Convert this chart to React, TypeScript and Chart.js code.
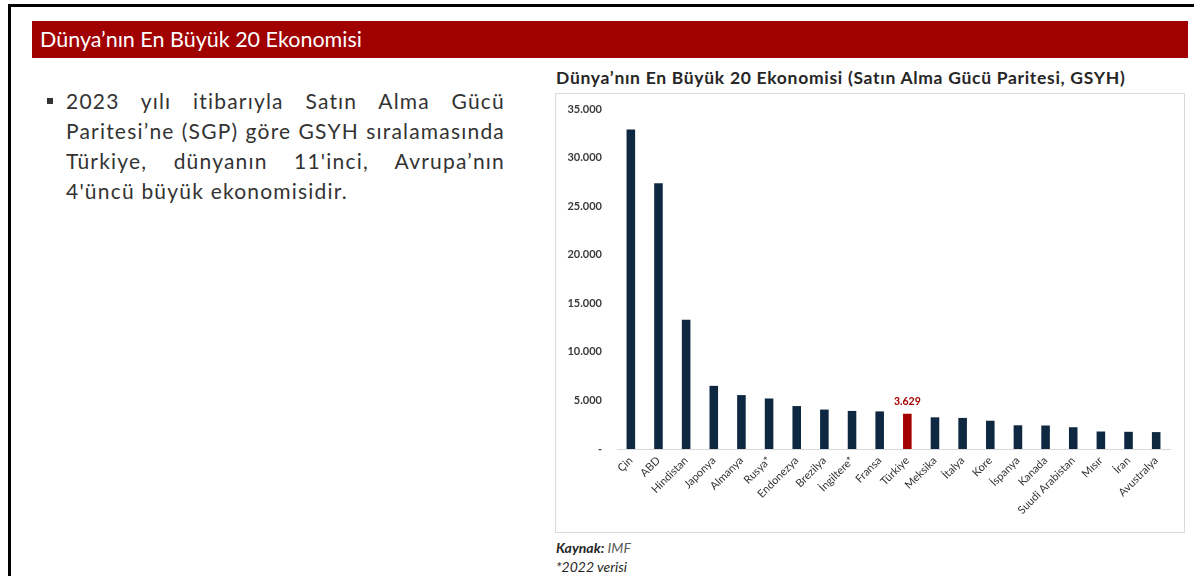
import React, { useEffect, useRef } from "react";
import { Chart, registerables } from "chart.js";

Chart.register(...registerables);

const categories = [
  "Çin", "ABD", "Hindistan", "Japonya", "Almanya", "Rusya*", "Endonezya", "Brezilya",
  "İngiltere*", "Fransa", "Türkiye", "Meksika", "İtalya", "Kore", "İspanya", "Kanada",
  "Suudi Arabistan", "Mısır", "İran", "Avustralya",
];
const gdpPpp = [
  32900, 27360, 13300, 6500, 5550, 5200, 4420, 4060, 3920, 3870,
  3629, 3260, 3200, 2910, 2440, 2420, 2240, 1800, 1770, 1740,
];
const highlightCategory = "Türkiye";
const yTicks = [0, 5000, 10000, 15000, 20000, 25000, 30000, 35000];

const FONT = "Lato, 'Open Sans', sans-serif";
const NAVY = "#0e2841";
const RED = "#a50000";

const fmt = (v: number) =>
  v === 0 ? "-" : String(Math.round(v)).replace(/\B(?=(\d{3})+(?!\d))/g, ".");

function BarChart() {
  const ref = useRef<HTMLCanvasElement | null>(null);
  useEffect(() => {
    if (!ref.current) return;
    const hiIdx = categories.indexOf(highlightCategory);
    const labelPlugin = {
      id: "hiLabel",
      afterDatasetsDraw(chart: any) {
        const meta = chart.getDatasetMeta(0);
        const el = meta.data[hiIdx];
        if (!el) return;
        const ctx = chart.ctx;
        ctx.save();
        ctx.font = `bold 10.5px ${FONT}`;
        ctx.fillStyle = RED;
        ctx.textAlign = "center";
        ctx.textBaseline = "bottom";
        ctx.fillText(fmt(gdpPpp[hiIdx]), el.x, el.y - 7);
        ctx.restore();
      },
    };
    const chart = new Chart(ref.current, {
      type: "bar",
      data: {
        labels: categories,
        datasets: [
          {
            data: gdpPpp,
            backgroundColor: categories.map((c) => (c === highlightCategory ? RED : NAVY)),
            barPercentage: 0.31,
            categoryPercentage: 1,
          },
        ],
      },
      options: {
        animation: false,
        responsive: false,
        devicePixelRatio: 1,
        layout: { padding: { top: 15, right: 14, left: 0, bottom: 0 } },
        plugins: { legend: { display: false }, tooltip: { enabled: false }, title: { display: false } },
        scales: {
          y: {
            min: 0,
            max: 35000,
            afterBuildTicks: (s: any) => {
              s.ticks = yTicks.map((v) => ({ value: v }));
            },
            afterFit: (s: any) => {
              s.width = 61;
              s.paddingTop = 0;
              s.paddingBottom = 0;
            },
            ticks: {
              padding: 15,
              callback: (v: any) => fmt(Number(v)),
              font: { family: FONT, size: 11, weight: "bold" },
              color: "#3a3a3a",
            },
            grid: { display: false, drawTicks: false },
            border: { display: false },
          },
          x: {
            afterFit: (s: any) => {
              s.height = 83;
            },
            ticks: {
              autoSkip: false,
              maxRotation: 45,
              minRotation: 45,
              padding: 5,
              font: { family: FONT, size: 11 },
              color: "#333333",
            },
            grid: { display: false, drawTicks: false },
            border: { display: true, color: "#d9d9d9", width: 1 },
          },
        },
      },
      plugins: [labelPlugin],
    });
    return () => chart.destroy();
  }, []);
  return <canvas ref={ref} width={628} height={438} style={{ position: "absolute", left: 0, top: 0 }} />;
}

export default function App() {
  return (
    <div
      style={{
        position: "absolute",
        left: 0,
        top: 0,
        width: 1196,
        height: 576,
        background: "#fff",
        overflow: "hidden",
        fontFamily: FONT,
      }}
    >
      <div
        style={{
          position: "absolute",
          left: 8,
          top: 4,
          width: 1183,
          height: 600,
          borderTop: "3px solid #000",
          borderLeft: "3px solid #000",
        }}
      />
      <div
        style={{
          position: "absolute",
          left: 32,
          top: 21,
          width: 1156,
          height: 37,
          background: "#a00000",
          color: "#fff",
          fontSize: 21.5,
          lineHeight: "37px",
          paddingLeft: 8,
          boxSizing: "border-box",
          whiteSpace: "nowrap",
        }}
      >
        Dünya’nın En Büyük 20 Ekonomisi
      </div>
      <div style={{ position: "absolute", left: 47, top: 98, width: 6, height: 6, background: "#333" }} />
      <div
        style={{
          position: "absolute",
          left: 66,
          top: 86,
          width: 439,
          fontSize: 21,
          lineHeight: "30px",
          letterSpacing: "1.2px",
          color: "#333",
        }}
      >
        {[
          "2023 yılı itibarıyla Satın Alma Gücü",
          "Paritesi’ne (SGP) göre GSYH sıralamasında",
          "Türkiye, dünyanın 11'inci, Avrupa’nın",
        ].map((t) => (
          <div key={t} style={{ textAlign: "justify", textAlignLast: "justify", whiteSpace: "nowrap" }}>
            {t}
          </div>
        ))}
        <div style={{ whiteSpace: "nowrap" }}>4'üncü büyük ekonomisidir.</div>
      </div>
      <div
        style={{
          position: "absolute",
          left: 556,
          top: 68,
          fontSize: 17.5,
          fontWeight: "bold",
          letterSpacing: "0.7px",
          color: "#262626",
          lineHeight: "20px",
          whiteSpace: "nowrap",
        }}
      >
        Dünya’nın En Büyük 20 Ekonomisi (Satın Alma Gücü Paritesi, GSYH)
      </div>
      <div
        style={{
          position: "absolute",
          left: 555,
          top: 93,
          width: 630,
          height: 440,
          border: "1px solid #d9d9d9",
          boxSizing: "border-box",
        }}
      >
        <BarChart />
      </div>
      <div
        style={{
          position: "absolute",
          left: 556,
          top: 538,
          fontSize: 14,
          lineHeight: "19px",
          fontStyle: "italic",
          color: "#595959",
          whiteSpace: "nowrap",
        }}
      >
        <div>
          <span style={{ fontWeight: "bold", color: "#262626" }}>Kaynak:</span> IMF
        </div>
        <div style={{ color: "#262626" }}>*2022 verisi</div>
      </div>
    </div>
  );
}
